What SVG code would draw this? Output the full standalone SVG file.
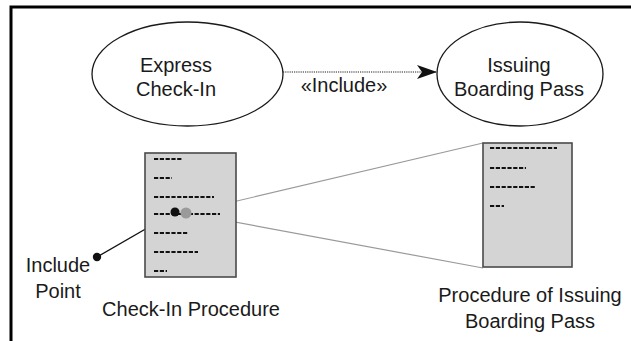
<svg xmlns="http://www.w3.org/2000/svg" width="631" height="341" viewBox="0 0 631 341">
  <defs>
    <style>
      .frame { stroke: #000; stroke-width: 3; fill: none; }
      .usecase { fill: #fff; stroke: #1a1a1a; stroke-width: 1.3; }
      .label { font-family: "Liberation Sans", Arial, sans-serif; font-size: 20px; fill: #1a1a1a; text-anchor: middle; }
      .doc { fill: #d4d4d4; stroke: #4a4a4a; stroke-width: 1.6; }
      .code { stroke: #111; stroke-width: 2; stroke-dasharray: 4.2 1.6; fill: none; }
      .include { stroke: #222; stroke-width: 1.2; stroke-dasharray: 1.2 1; fill: none; }
      .ref { stroke: #9a9a9a; stroke-width: 1.2; fill: none; }
      .pointer { stroke: #111; stroke-width: 1.3; fill: none; }
    </style>
    <marker id="arrow" viewBox="0 0 20 14" refX="20" refY="7" markerWidth="20" markerHeight="14" markerUnits="userSpaceOnUse" orient="auto">
      <path d="M0,0 L20,7 L0,14 L5,7 Z" fill="#111"/>
    </marker>
  </defs>

  <!-- outer frame: top and left edges only -->
  <path class="frame" d="M11,341 L11,7 L631,7"/>

  <!-- connectors -->
  <g id="connectors">
    <line class="include" x1="283" y1="72" x2="437" y2="72" marker-end="url(#arrow)"/>
    <text class="label" x="344" y="92">«Include»</text>
    <line class="ref" x1="186" y1="213" x2="483" y2="143"/>
    <line class="ref" x1="186" y1="213" x2="483" y2="268"/>
    <line class="pointer" x1="97" y1="257" x2="175" y2="212"/>
  </g>

  <!-- use case: Express Check-In -->
  <g id="express-check-in">
    <ellipse class="usecase" cx="187.5" cy="74" rx="95.5" ry="52"/>
    <text class="label" x="176" y="72">Express</text>
    <text class="label" x="176" y="96">Check-In</text>
  </g>

  <!-- use case: Issuing Boarding Pass -->
  <g id="issuing-boarding-pass">
    <ellipse class="usecase" cx="520" cy="74" rx="83" ry="52"/>
    <text class="label" x="519" y="72">Issuing</text>
    <text class="label" x="519" y="96">Boarding Pass</text>
  </g>

  <!-- procedure listing: Check-In -->
  <g id="check-in-procedure">
    <rect class="doc" x="145" y="153" width="91" height="124"/>
    <line class="code" x1="154" y1="159" x2="183" y2="159"/>
    <line class="code" x1="154" y1="178" x2="172" y2="178"/>
    <line class="code" x1="154" y1="197" x2="214" y2="197"/>
    <line class="code" x1="154" y1="214" x2="220" y2="214"/>
    <line class="code" x1="154" y1="233" x2="188" y2="233"/>
    <line class="code" x1="154" y1="252" x2="198" y2="252"/>
    <line class="code" x1="154" y1="271" x2="167" y2="271"/>
    <text class="label" x="191" y="316">Check-In Procedure</text>
  </g>

  <!-- procedure listing: Issuing Boarding Pass -->
  <g id="issuing-procedure">
    <rect class="doc" x="483" y="143" width="89" height="124"/>
    <line class="code" x1="490" y1="148" x2="557" y2="148"/>
    <line class="code" x1="490" y1="168" x2="526" y2="168"/>
    <line class="code" x1="490" y1="187" x2="536" y2="187"/>
    <line class="code" x1="490" y1="206" x2="504" y2="206"/>
    <text class="label" x="530" y="302">Procedure of Issuing</text>
    <text class="label" x="530" y="328">Boarding Pass</text>
  </g>

  <!-- include point marker -->
  <g id="include-point">
    <circle cx="186" cy="213" r="5.5" fill="#9a9a9a"/>
    <circle cx="175" cy="212" r="4.5" fill="#111"/>
    <circle cx="97" cy="257" r="4.2" fill="#111"/>
    <text class="label" x="58" y="272">Include</text>
    <text class="label" x="58" y="298">Point</text>
  </g>
</svg>
